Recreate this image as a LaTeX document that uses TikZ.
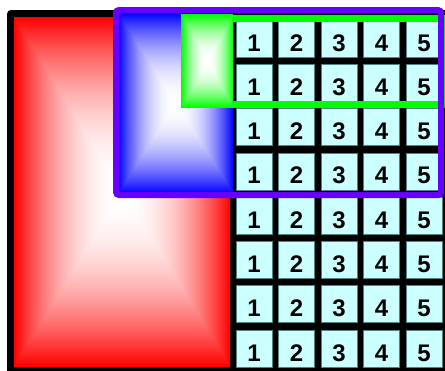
\documentclass[tikz,border=0pt]{standalone}
\usepackage{xcolor}
\usepackage{fontspec}
\setsansfont{Liberation Sans}
\usepackage{tikz}
\usetikzlibrary{positioning}
\definecolor{cellcyan}{RGB}{204, 255, 255}
\definecolor{celledge}{RGB}{80, 130, 130}
\definecolor{framepurple}{RGB}{102, 0, 255}
\definecolor{framegreen}{RGB}{0, 255, 0}

% pyramid shadings: white in the middle, full colour at the edges
\pgfdeclarefunctionalshading{redpyramid}{\pgfpoint{0bp}{0bp}}{\pgfpoint{100bp}{100bp}}{}{
  50 sub abs exch 50 sub abs 2 copy lt {exch} if pop
  25 div dup 1 gt {pop 1} if dup mul 1 exch sub
  1 exch dup
}
\pgfdeclarefunctionalshading{bluepyramid}{\pgfpoint{0bp}{0bp}}{\pgfpoint{100bp}{100bp}}{}{
  50 sub abs exch 50 sub abs 2 copy lt {exch} if pop
  25 div dup 1 gt {pop 1} if dup mul 1 exch sub
  dup 1
}
\pgfdeclarefunctionalshading{greenpyramid}{\pgfpoint{0bp}{0bp}}{\pgfpoint{100bp}{100bp}}{}{
  50 sub abs exch 50 sub abs 2 copy lt {exch} if pop
  25 div dup 1 gt {pop 1} if dup mul 1 exch sub
  dup 1 exch
}

\begin{document}
\begin{tikzpicture}[
    x=1pt, y=-1pt,
    cell/.style={rectangle, draw=celledge, line width=0.8pt, fill=cellcyan, minimum width=36pt, minimum height=37pt, inner sep=0pt, text height=25pt, text depth=0pt, font=\sffamily\bfseries\fontsize{24}{24}\selectfont},
    pyrbox/.style={rectangle, inner sep=0pt, outer sep=0pt},
    frame/.style={line width=6pt}
]
    \useasboundingbox (0,0) rectangle (445,370);
    \clip (0,0) rectangle (445,370);

    % Background
    \fill[black, rounded corners=4pt] (7,10) rectangle (460,385);

    % Left column: red box over all rows
    \node[pyrbox, shading=redpyramid, minimum width=216pt, minimum height=349pt] (redbox) at (122,191.5) {};

    % Grid: 8 rows of 1..5
    \foreach \r in {1,...,8}{
        \foreach \c in {1,...,5}{
            \node[cell] (cell-\r-\c) at ({254+42.5*(\c-1)}, {38.5+44.3*(\r-1)}) {\c};
        }
    }

    % Rows 1-4: blue box
    \node[pyrbox, shading=bluepyramid, minimum width=115pt, minimum height=180pt] (bluebox) at (175.5,103) {};

    % Rows 1-2: green frame and box
    \draw[frame, framegreen, line width=7pt] (185,18) rectangle (441,104);
    \node[pyrbox, shading=greenpyramid, minimum width=52pt, minimum height=93pt] (greenbox) at (207,60.5) {};

    % Purple frame round rows 1-4
    \draw[frame, framepurple, rounded corners=3pt] (116,10) rectangle (441,195);
\end{tikzpicture}
\end{document}
